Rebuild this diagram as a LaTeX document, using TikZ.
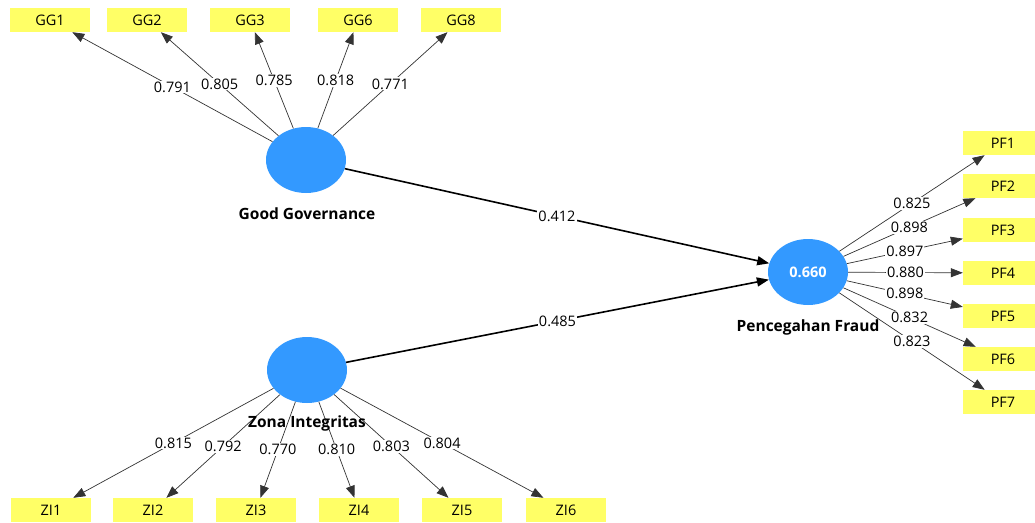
\documentclass[tikz,border=0pt]{standalone}
\usepackage{fontspec}
\setmainfont{Open Sans}
\usetikzlibrary{arrows.meta,shapes.geometric}
\definecolor{lvblue}{RGB}{51,153,255}
\definecolor{indyellow}{RGB}{255,255,102}
\begin{document}
\begin{tikzpicture}[x=1pt, y=-1pt,
        ind/.style={rectangle, fill=indyellow, minimum width=80pt, minimum height=24pt, inner sep=0pt, font=\fontsize{14.5}{14.5}\selectfont},
        lv/.style={ellipse, fill=lvblue, minimum width=80pt, minimum height=66pt, inner sep=0pt},
        lvname/.style={font=\bfseries\fontsize{15.5}{15.5}\selectfont},
        load/.style={draw=black!80, line width=0.7pt, -{Triangle[length=12pt,width=9pt]}},
        struct/.style={draw=black, line width=1.6pt, -{Triangle[length=12pt,width=9pt]}},
        wt/.style={fill=white, inner sep=1pt, font=\fontsize{14.5}{14.5}\selectfont}
    ]
    \useasboundingbox (0,0) rectangle (1035,522);
    % latent variables
    \node[lv] (gg) at (306,160) {};
    \node[lv] (zi) at (307,370) {};
    \node[lv, font=\bfseries\fontsize{14.5}{14.5}\selectfont, text=white] (pf) at (808,272) {0.660};
    % indicators
    \node[ind] (gg1) at (50,20) {GG1};
    \node[ind] (gg2) at (147,20) {GG2};
    \node[ind] (gg3) at (250,20) {GG3};
    \node[ind] (gg6) at (358,20) {GG6};
    \node[ind] (gg8) at (461,20) {GG8};
    \node[ind] (zi1) at (51,510) {ZI1};
    \node[ind] (zi2) at (153,510) {ZI2};
    \node[ind] (zi3) at (256,510) {ZI3};
    \node[ind] (zi4) at (359,510) {ZI4};
    \node[ind] (zi5) at (462,510) {ZI5};
    \node[ind] (zi6) at (566,510) {ZI6};
    \node[ind] (pf1) at (1003,143) {PF1};
    \node[ind] (pf2) at (1003,186) {PF2};
    \node[ind] (pf3) at (1003,230) {PF3};
    \node[ind] (pf4) at (1003,273) {PF4};
    \node[ind] (pf5) at (1003,316) {PF5};
    \node[ind] (pf6) at (1003,359) {PF6};
    \node[ind] (pf7) at (1003,402) {PF7};
    % outer loadings
    \draw[load] (gg) -- node[wt] {0.791} (gg1);
    \draw[load] (gg) -- node[wt] {0.805} (gg2);
    \draw[load] (gg) -- node[wt] {0.785} (gg3);
    \draw[load] (gg) -- node[wt] {0.818} (gg6);
    \draw[load] (gg) -- node[wt] {0.771} (gg8);
    \draw[load] (zi) -- node[wt] {0.815} (zi1);
    \draw[load] (zi) -- node[wt] {0.792} (zi2);
    \draw[load] (zi) -- node[wt] {0.770} (zi3);
    \draw[load] (zi) -- node[wt] {0.810} (zi4);
    \draw[load] (zi) -- node[wt] {0.803} (zi5);
    \draw[load] (zi) -- node[wt] {0.804} (zi6);
    \draw[load] (pf) -- node[wt] {0.825} (pf1);
    \draw[load] (pf) -- node[wt] {0.898} (pf2);
    \draw[load] (pf) -- node[wt] {0.897} (pf3);
    \draw[load] (pf) -- node[wt] {0.880} (pf4);
    \draw[load] (pf) -- node[wt] {0.898} (pf5);
    \draw[load] (pf) -- node[wt] {0.832} (pf6);
    \draw[load] (pf) -- node[wt] {0.823} (pf7);
    % path coefficients
    \draw[struct] (gg) -- node[wt] {0.412} (pf);
    \draw[struct] (zi) -- node[wt] {0.485} (pf);
    % names
    \node[lvname] at (307,214) {Good Governance};
    \node[lvname] at (307,423) {Zona Integritas};
    \node[lvname] at (808,327) {Pencegahan Fraud};
\end{tikzpicture}
\end{document}
